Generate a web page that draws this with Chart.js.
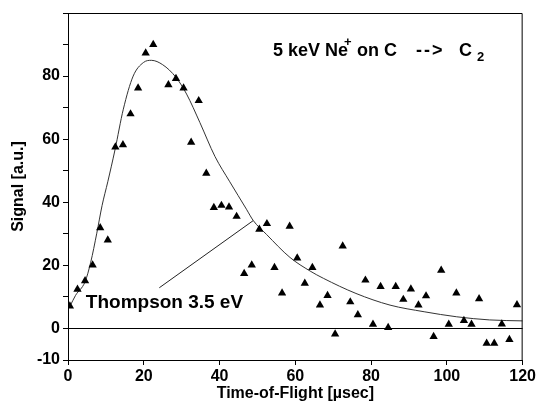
<!DOCTYPE html>
<html>
<head>
<meta charset="utf-8">
<script src="https://cdn.jsdelivr.net/npm/chart.js@4"></script>
<style>
  body { margin: 0; background: #fff; }
  #wrap { width: 538px; height: 403px; }
</style>
</head>
<body>
<div id="wrap"><canvas id="tofChart" width="538" height="403"></canvas></div>
<script>
// DATA
const tofX = [0.5, 2.5, 4.5, 6.5, 8.5, 10.5, 12.5, 14.5, 16.5, 18.5, 20.5, 22.5,
  26.5, 28.5, 30.5, 32.5, 34.5, 36.5, 38.5, 40.5, 42.5, 44.5, 46.5, 48.5, 50.5,
  52.5, 54.5, 56.5, 58.5, 60.5, 62.5, 64.5, 66.5, 68.5, 70.5, 72.5, 74.5, 76.5,
  78.5, 80.5, 82.5, 84.5, 86.5, 88.5, 90.5, 92.5, 94.5, 96.5, 98.5, 100.5,
  102.5, 104.5, 106.5, 108.5, 110.5, 112.5, 114.5, 116.5, 118.5];
const signal = [7.1, 12.4, 15.1, 20.1, 31.9, 28, 57.5, 58.2, 68, 76.2, 87.3, 90,
  77.2, 79.2, 76.2, 59, 72.2, 49.2, 38.3, 39, 38.5, 35.5, 17.4, 20.1, 31.4,
  33.2, 19.3, 11.2, 32.4, 22.3, 14.3, 19.3, 7.4, 10.4, -1.8, 26.1, 8.4, 4.3,
  15.3, 1.3, 13.3, 0.3, 13.3, 9.2, 12.5, 7.4, 10.3, -2.6, 18.4, 1.3,
  11.2, 2.5, 1.3, 9.4, -4.7, -4.7, 1.4, -3.5, 7.5];

// Thompson 3.5 eV fit curve
const fitX = [0.5, 2, 4.5, 6, 7.6, 9, 10.5, 12.4, 14.6, 17.2, 19.9, 22, 25, 28.5,
  31.3, 34.8, 38.8, 42.7, 47.1, 48.9, 52.4, 58.6, 63.9, 67.4, 76, 85, 94,
  102.6, 111.3, 120];
const fitY = [7, 10.5, 14.8, 21, 30.2, 39, 46.5, 56.6, 69.5, 80, 84.3, 85, 83.6,
  79.6, 74.3, 65.3, 54.5, 46.5, 37.8, 34.2, 29.8, 22.5, 18.2, 15.9, 11.1, 7.4,
  5.3, 3.7, 2.7, 2.4];

// leader line from label to curve
const leaderX = [24.1, 48.9];
const leaderY = [12.9, 34.2];

const xTicks = [0, 20, 40, 60, 80, 100, 120];
const yTicks = [-10, 0, 10, 20, 30, 40, 50, 60, 70, 80, 90, 100];
const yTickLabels = [-10, 0, 20, 40, 60, 80];

const fitLabel = "Thompson 3.5 eV";
const fitLabelAt = { x: 4.7, y: 6.5 };
const titleAt = { x: 54.1, y: 86.3 };

const FONT = '"Liberation Sans", Arial, Helvetica, sans-serif';

function toPoints(xs, ys) {
  return xs.map((x, i) => ({ x: x, y: ys[i] }));
}

// TEXT + FRAME PLUGIN
const annotations = {
  id: "annotations",
  afterDraw(chart) {
    const ctx = chart.ctx;
    const xs = chart.scales.x;
    const ys = chart.scales.y;
    const area = chart.chartArea;

    // box top + right
    ctx.save();
    ctx.strokeStyle = "#000";
    ctx.lineWidth = 1;
    ctx.beginPath();
    ctx.moveTo(area.left, area.top + 0.5);
    ctx.lineTo(area.right - 0.5, area.top + 0.5);
    ctx.lineTo(area.right - 0.5, area.bottom);
    ctx.stroke();

    ctx.fillStyle = "#000";
    ctx.textBaseline = "alphabetic";
    ctx.textAlign = "left";

    // Thompson label
    ctx.font = "bold 19px " + FONT;
    ctx.fillText(fitLabel, xs.getPixelForValue(fitLabelAt.x), ys.getPixelForValue(fitLabelAt.y));

    // title: 5 keV Ne+ on C --> C2
    const tx = xs.getPixelForValue(titleAt.x);
    const ty = ys.getPixelForValue(titleAt.y);
    ctx.font = "bold 18px " + FONT;
    ctx.fillText("5 keV Ne", tx, ty);
    ctx.fillText("on C", tx + 84, ty);
    ctx.letterSpacing = "2px";
    ctx.fillText("-->", tx + 143, ty);
    ctx.letterSpacing = "0px";
    ctx.fillText("C", tx + 186, ty);
    ctx.font = "bold 13px " + FONT;
    ctx.fillText("+", tx + 71, ty - 10);
    ctx.fillText("2", tx + 204, ty + 5);
    ctx.restore();
  },
};

const ctx = document.getElementById("tofChart").getContext("2d");

new Chart(ctx, {
  type: "scatter",
  data: {
    datasets: [
      {
        label: "data",
        data: toPoints(tofX, signal),
        pointStyle: "triangle",
        pointRadius: 4.8,
        pointHoverRadius: 4.8,
        backgroundColor: "#000",
        borderColor: "#000",
        borderWidth: 0,
      },
      {
        label: "fit",
        data: toPoints(fitX, fitY),
        showLine: true,
        pointRadius: 0,
        borderColor: "#333",
        borderWidth: 1,
        cubicInterpolationMode: "monotone",
        fill: false,
      },
      {
        label: "leader",
        data: toPoints(leaderX, leaderY),
        showLine: true,
        pointRadius: 0,
        borderColor: "#222",
        borderWidth: 1,
        fill: false,
      },
    ],
  },
  options: {
    responsive: false,
    animation: false,
    devicePixelRatio: 1,
    layout: { padding: { left: 0, right: 15, top: 13, bottom: 0 } },
    plugins: {
      legend: { display: false },
      tooltip: { enabled: false },
    },
    scales: {
      x: {
        type: "linear",
        min: 0,
        max: 120,
        afterBuildTicks: (scale) => {
          scale.ticks = xTicks.map((v) => ({ value: v }));
        },
        afterFit: (scale) => {
          scale.height = 43;
        },
        border: { display: true, color: "#000", width: 1 },
        grid: {
          drawOnChartArea: false,
          drawTicks: true,
          tickLength: 5,
          color: "#000",
          tickColor: "#000",
        },
        ticks: {
          color: "#000",
          padding: 2,
          maxRotation: 0,
          font: { family: FONT, size: 16, weight: "bold" },
        },
        title: {
          display: true,
          text: "Time-of-Flight [µsec]",
          color: "#000",
          padding: { top: 0, bottom: 0 },
          font: { family: FONT, size: 16, weight: "bold" },
        },
      },
      y: {
        type: "linear",
        min: -10,
        max: 100,
        afterBuildTicks: (scale) => {
          scale.ticks = yTicks.map((v) => ({ value: v }));
        },
        afterFit: (scale) => {
          scale.width = 68;
        },
        border: { display: true, color: "#000", width: 1 },
        grid: {
          drawOnChartArea: true,
          drawTicks: true,
          tickLength: 5,
          color: (c) => (c.tick && c.tick.value === 0 ? "#000" : "rgba(0,0,0,0)"),
          tickColor: "#000",
        },
        ticks: {
          color: "#000",
          padding: 3,
          font: { family: FONT, size: 16, weight: "bold" },
          callback: (v) => (yTickLabels.includes(v) ? String(v) : ""),
        },
        title: {
          display: true,
          text: "Signal [a.u.]",
          color: "#000",
          padding: { top: 9, bottom: 0 },
          font: { family: FONT, size: 16, weight: "bold" },
        },
      },
    },
  },
  plugins: [annotations],
});
</script>
</body>
</html>
